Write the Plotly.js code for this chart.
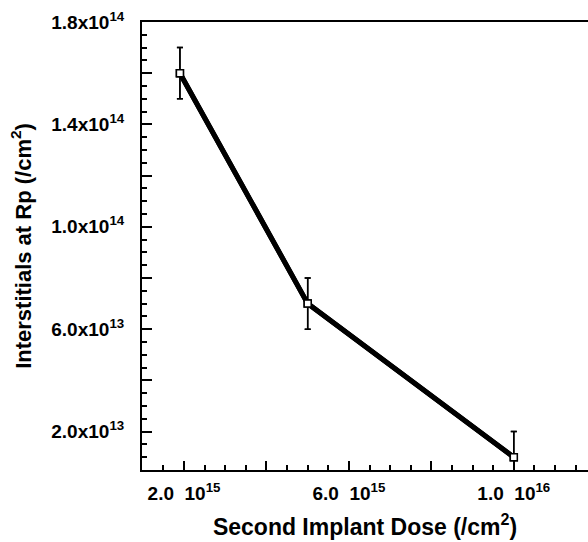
<!DOCTYPE html>
<html>
<head>
<meta charset="utf-8">
<script src="https://cdn.plot.ly/plotly-3.0.1.min.js"></script>
<style>html,body{margin:0;padding:0;background:#fff;overflow:hidden}</style>
</head>
<body>
<div id="chart" style="width:588px;height:542px"></div>
<script>
// Data
const dose = [1.9e15, 5.0e15, 1.0e16];
const interstitials = [1.6e14, 7.0e13, 1.0e13];
const errorBars = [1.0e13, 1.0e13, 1.0e13];

// Major ticks and their labels
const xTickVals = [2e15, 4e15, 6e15, 8e15, 1e16];
const xTickText = ['2.0\u00a0\u00a010<sup>15</sup>', '', '6.0\u00a0\u00a010<sup>15</sup>', '', '1.0\u00a0\u00a010<sup>16</sup>'];
const yTickVals = [2e13, 4e13, 6e13, 8e13, 1e14, 1.2e14, 1.4e14, 1.6e14, 1.8e14];
const yTickText = ['2.0x10<sup>13</sup>', '', '6.0x10<sup>13</sup>', '', '1.0x10<sup>14</sup>', '', '1.4x10<sup>14</sup>', '', '1.8x10<sup>14</sup>'];

// Minor tick positions
const xMinorTicks = [1.5e15, 2.5e15, 3e15, 3.5e15, 4.5e15, 5e15, 5.5e15, 6.5e15, 7e15, 7.5e15,
  8.5e15, 9e15, 9.5e15, 1.05e16, 1.1e16, 1.15e16];
const yMinorTicks = [1e13, 1.5e13, 2.5e13, 3e13, 3.5e13, 4.5e13, 5e13, 5.5e13, 6.5e13, 7e13, 7.5e13,
  8.5e13, 9e13, 9.5e13, 1.05e14, 1.1e14, 1.15e14, 1.25e14, 1.3e14, 1.35e14, 1.45e14, 1.5e14,
  1.55e14, 1.65e14, 1.7e14, 1.75e14];

const fontFam = 'Liberation Sans, Arial, Helvetica, sans-serif';
const xRange = [0.98e15, 1.18e16];
const yRange = [5e12, 1.8e14];

// all ticks (major + minor) on the base axes, labels only at the labelled majors
function allTicks(major, minor) { return major.concat(minor).sort((a, b) => a - b); }
function allText(ticks, major, text) {
  return ticks.map(v => { const i = major.indexOf(v); return i >= 0 ? text[i] : ''; });
}
const xAll = allTicks(xTickVals, xMinorTicks);
const yAll = allTicks(yTickVals, yMinorTicks);

const traceStyle = {
  type: 'scatter',
  mode: 'lines+markers',
  line: {color: '#000', width: 5},
  marker: {symbol: 'square', size: 7, color: '#fff', line: {color: '#000', width: 1.5}},
  error_y: {type: 'data', array: errorBars, visible: true, color: '#000', thickness: 1.5, width: 3},
  showlegend: false
};

const trace = Object.assign({x: dose, y: interstitials}, traceStyle);
// same data on the overlay axes that carry the longer major ticks
const traceOverlay = Object.assign({x: dose, y: interstitials, xaxis: 'x2', yaxis: 'y2'}, traceStyle);

const layout = {
  width: 588,
  height: 542,
  margin: {l: 142, r: 0, t: 22, b: 72},
  paper_bgcolor: '#fff',
  plot_bgcolor: '#fff',
  font: {family: fontFam, color: '#000', weight: 'bold'},
  xaxis: {
    range: xRange,
    tickmode: 'array',
    tickvals: xAll,
    ticktext: allText(xAll, xTickVals, xTickText),
    ticks: 'inside',
    ticklen: 5,
    tickwidth: 2,
    tickcolor: '#000',
    showline: true,
    linewidth: 2,
    linecolor: '#000',
    mirror: true,
    showgrid: false,
    zeroline: false,
    tickfont: {size: 19, family: fontFam, weight: 'bold'},
    ticklabelstandoff: 5,
    title: {text: 'Second Implant Dose (/cm<sup>2</sup>)', font: {size: 23, family: fontFam, weight: 'bold'}, standoff: 16},
    automargin: false
  },
  yaxis: {
    range: yRange,
    tickmode: 'array',
    tickvals: yAll,
    ticktext: allText(yAll, yTickVals, yTickText),
    ticks: 'inside',
    ticklen: 5,
    tickwidth: 2,
    tickcolor: '#000',
    showline: true,
    linewidth: 2,
    linecolor: '#000',
    mirror: false,
    showgrid: false,
    zeroline: false,
    tickfont: {size: 19, family: fontFam, weight: 'bold'},
    ticklabelstandoff: 12,
    title: {text: 'Interstitials at Rp (/cm<sup>2</sup>)', font: {size: 22, family: fontFam, weight: 'bold'}, standoff: 14},
    automargin: false
  },
  xaxis2: {
    overlaying: 'x',
    anchor: 'y2',
    side: 'bottom',
    range: xRange,
    tickmode: 'array',
    tickvals: xTickVals,
    showticklabels: false,
    ticks: 'inside',
    ticklen: 9,
    tickwidth: 2,
    tickcolor: '#000',
    showline: false,
    showgrid: false,
    zeroline: false,
    automargin: false
  },
  yaxis2: {
    overlaying: 'y',
    anchor: 'x2',
    side: 'left',
    range: yRange,
    tickmode: 'array',
    tickvals: yTickVals,
    showticklabels: false,
    ticks: 'inside',
    ticklen: 10,
    tickwidth: 2,
    tickcolor: '#000',
    showline: false,
    showgrid: false,
    zeroline: false,
    automargin: false
  }
};

Plotly.newPlot('chart', [trace, traceOverlay], layout, {displayModeBar: false, staticPlot: true});
</script>
</body>
</html>
